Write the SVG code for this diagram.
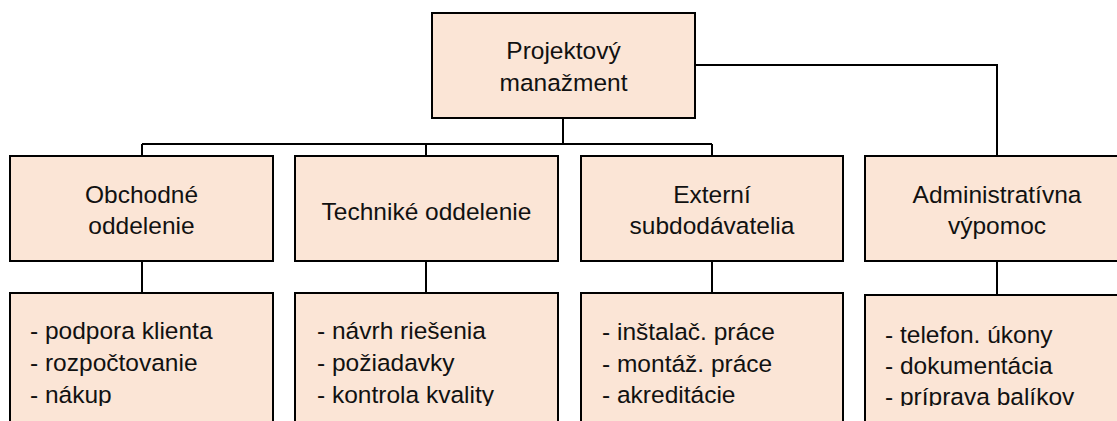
<svg xmlns="http://www.w3.org/2000/svg" width="1117" height="421" viewBox="0 0 1117 421">
<style>
.box{fill:#FBE5D6;stroke:#000;stroke-width:2}
.conn{fill:none;stroke:#000;stroke-width:2}
text{font-family:"Liberation Sans",Arial,sans-serif;font-size:24.5px;fill:#111}
.c{text-anchor:middle}
</style>
<defs>
<clipPath id="clipList"><rect x="0" y="0" width="1117" height="406"/></clipPath>
</defs>
<rect width="1117" height="421" fill="#fff"/>
<g id="connectors">
<path class="conn" d="M563 118V144M142 144H712M142 144V156M426 144V156M712 144V156"/>
<path class="conn" d="M695 65H997V156"/>
<path class="conn" d="M142 261V293M426 261V293M712 261V293M997 261V295"/>
</g>
<g id="n-top">
<rect class="box" x="432" y="13" width="263" height="105"/>
<text class="c" x="563.5" y="59">Projektový</text>
<text class="c" x="563.5" y="91">manažment</text>
</g>
<g id="n-obchodne">
<rect class="box" x="10" y="156" width="263" height="105"/>
<text class="c" x="141.5" y="203">Obchodné</text>
<text class="c" x="141.5" y="234">oddelenie</text>
</g>
<g id="n-technicke">
<rect class="box" x="295" y="156" width="263" height="105"/>
<text class="c" x="426.5" y="220">Techniké oddelenie</text>
</g>
<g id="n-externi">
<rect class="box" x="581" y="156" width="262" height="105"/>
<text class="c" x="712" y="203">Externí</text>
<text class="c" x="712" y="234">subdodávatelia</text>
</g>
<g id="n-admin">
<rect class="box" x="865" y="156" width="264" height="105"/>
<text class="c" x="997" y="203">Administratívna</text>
<text class="c" x="997" y="234">výpomoc</text>
</g>
<g id="n-obchodne-list">
<rect class="box" x="10" y="293" width="263" height="140"/>
<g clip-path="url(#clipList)">
<text x="30" y="339">- podpora klienta</text>
<text x="30" y="371">- rozpočtovanie</text>
<text x="30" y="403">- nákup</text>
</g>
</g>
<g id="n-technicke-list">
<rect class="box" x="295" y="293" width="263" height="140"/>
<g clip-path="url(#clipList)">
<text x="317" y="339">- návrh riešenia</text>
<text x="317" y="371">- požiadavky</text>
<text x="317" y="403">- kontrola kvality</text>
</g>
</g>
<g id="n-externi-list">
<rect class="box" x="581" y="293" width="262" height="140"/>
<g clip-path="url(#clipList)">
<text x="602" y="340">- inštalač. práce</text>
<text x="602" y="372">- montáž. práce</text>
<text x="602" y="403">- akreditácie</text>
</g>
</g>
<g id="n-admin-list">
<rect class="box" x="865" y="295" width="264" height="140"/>
<g clip-path="url(#clipList)">
<text x="885" y="343">- telefon. úkony</text>
<text x="885" y="374">- dokumentácia</text>
<text x="885" y="405">- príprava balíkov</text>
</g>
</g>
</svg>
